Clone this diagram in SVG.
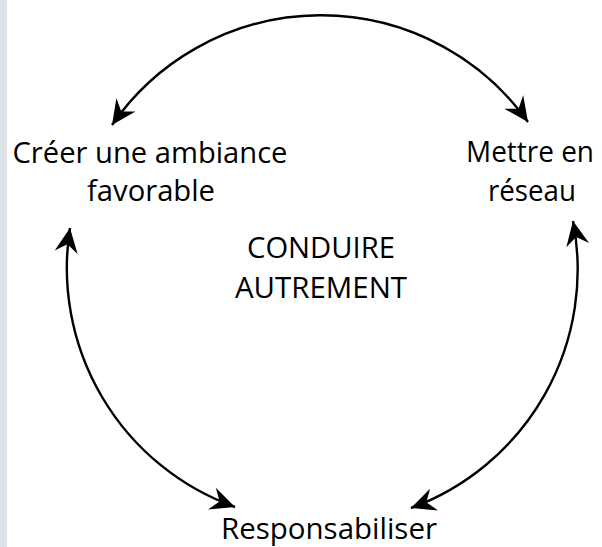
<svg xmlns="http://www.w3.org/2000/svg" width="602" height="547" viewBox="0 0 602 547">
<style>
.lbl{font-family:"Open Sans","Noto Sans",sans-serif;font-size:30px;fill:#000;text-anchor:middle}
.arc{fill:none;stroke:#000;stroke-width:2.4;marker-start:url(#ah);marker-end:url(#ah)}
</style>
<defs>
<marker id="ah" markerUnits="userSpaceOnUse" markerWidth="30" markerHeight="30" refX="0" refY="0" viewBox="-20 -10 22 20" orient="auto-start-reverse">
<path d="M0,0 L-18,-8.5 L-12,0 L-18,8.5 Z" fill="#000"/>
</marker>
</defs>
<rect x="0" y="0" width="602" height="547" fill="#fff"/>
<rect x="0" y="0" width="7" height="547" fill="#dde1ea"/>
<g id="connectors">
<path class="arc" d="M112,125 A254,254 0 0 1 528,122"/>
<path class="arc" d="M70,228 A254,254 0 0 0 235,507"/>
<path class="arc" d="M573,221 A254,254 0 0 1 411,508"/>
</g>
<g id="node-ambiance">
<text class="lbl" x="150" y="163" textLength="275" lengthAdjust="spacingAndGlyphs">Créer une ambiance</text>
<text class="lbl" x="151" y="201" textLength="128" lengthAdjust="spacingAndGlyphs">favorable</text>
</g>
<g id="node-reseau">
<text class="lbl" x="530" y="162" textLength="128" lengthAdjust="spacingAndGlyphs">Mettre en</text>
<text class="lbl" x="532" y="201" textLength="88" lengthAdjust="spacingAndGlyphs">réseau</text>
</g>
<g id="node-centre">
<text class="lbl" x="321" y="258" textLength="148" lengthAdjust="spacingAndGlyphs">CONDUIRE</text>
<text class="lbl" x="321" y="298" textLength="172" lengthAdjust="spacingAndGlyphs">AUTREMENT</text>
</g>
<g id="node-responsabiliser">
<text class="lbl" x="329" y="539" textLength="216" lengthAdjust="spacingAndGlyphs">Responsabiliser</text>
</g>
</svg>
